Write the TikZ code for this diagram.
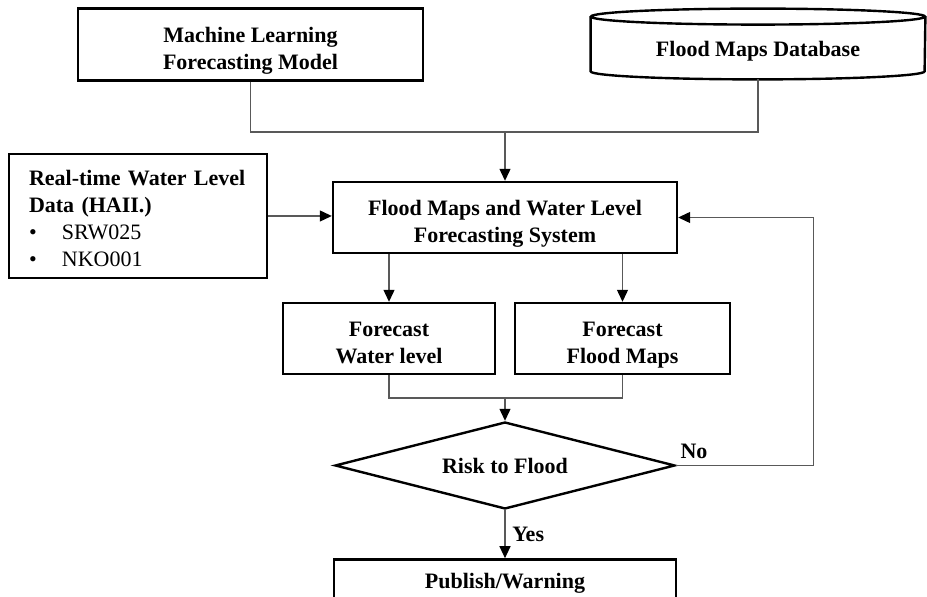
\documentclass[tikz,border=0pt]{standalone}
\usepackage{fontspec}
\setmainfont{Liberation Serif}
\usetikzlibrary{shapes.geometric, arrows.meta, positioning, calc}

% invisible struts to set the text a little lower in the boxes
\newcommand{\topgap}{\rule{0pt}{14.5pt}}
\newcommand{\botgap}{\rule[-3pt]{0pt}{3pt}}

\begin{document}
\begin{tikzpicture}[
    x=0.5pt, y=-0.5pt,
    font=\fontsize{11}{13.5}\selectfont\bfseries,
    >={Triangle[length=6pt, width=5.5pt, color=black]},
    % boxes
    box/.style={
        rectangle,
        draw=black,
        fill=white,
        line width=1.2pt,
        align=center,
        inner sep=2pt
    },
    twoline/.style={
        box,
        minimum height=35.5pt
    },
    decision/.style={
        diamond,
        draw=black,
        fill=white,
        line width=1.2pt,
        aspect=3.9,
        inner sep=0pt,
        minimum width=170pt,
        minimum height=43.5pt
    },
    % connectors
    link/.style={draw=black!65, line width=0.6pt},
    arrow/.style={link, ->}
]

    \clip (0,0) rectangle (927,597);

    % --- NODES ---

    % top row
    \node[twoline, minimum width=172.5pt, minimum height=36pt] (model) at (250.5,44.5) {\topgap Machine Learning\\Forecasting Model\botgap};

    % database (the cylinder is drawn around it)
    \node[minimum width=167pt, minimum height=28pt, inner sep=0pt] (database) at (758,51) {Flood Maps Database};
    \draw[line width=1.2pt] ([yshift=3pt]database.north) ellipse [x radius=83.5pt, y radius=4pt];
    \draw[line width=1.2pt] ([yshift=3pt]database.north west) -- ([yshift=4pt]database.south west)
        arc [start angle=180, end angle=360, x radius=83.5pt, y radius=4pt] -- ([yshift=3pt]database.north east);

    % input data
    \node[box, text width=109pt, inner xsep=10pt, align=left, minimum height=62pt,
        execute at begin node={\rule{0pt}{13pt}}, execute at end node={\rule[-3pt]{0pt}{3pt}}] (realtime) at (138,216)
        {Real-time Water Level\\Data (HAII.)\\
        {\mdseries\makebox[16.5pt][l]{\textbullet}SRW025}\\
        {\mdseries\makebox[16.5pt][l]{\textbullet}NKO001}};

    % system
    \node[twoline, minimum width=172pt] (system) at (505,217.5) {\topgap Flood Maps and Water Level\\Forecasting System\botgap};

    % forecasts
    \node[twoline, minimum width=106pt] (water) at (389,338.5) {\topgap Forecast\\Water level\botgap};
    \node[twoline, minimum width=107.5pt] (flood) at (622.5,338.5) {\topgap Forecast\\Flood Maps\botgap};

    % decision and output
    \node[decision] (risk) at (505,465.5) {Risk to Flood};
    \node[box, below=24pt of risk, minimum width=171pt, minimum height=24pt] (publish) {Publish/Warning};

    % --- CONNECTORS ---

    \coordinate (join) at (505,132);
    \draw[link] (model.south) |- (join);
    \draw[link] (database.south) |- (join);
    \draw[arrow] (join) -- (system.north);

    \draw[arrow] (realtime.east) -- (realtime.east -| system.west);

    \draw[arrow] (system.south -| water.north) -- (water.north);
    \draw[arrow] (system.south -| flood.north) -- (flood.north);

    \coordinate (merge) at (505,398);
    \draw[link] (water.south) |- (merge);
    \draw[link] (flood.south) |- (merge);
    \draw[arrow] (merge) -- (risk.north);

    % feedback loop
    \draw[arrow] (risk.east) -- ++(137,0) node[pos=0.13, above] {No} |- (system.east);

    \draw[arrow] (risk.south) -- node[right] {Yes} (publish.north);

\end{tikzpicture}
\end{document}
